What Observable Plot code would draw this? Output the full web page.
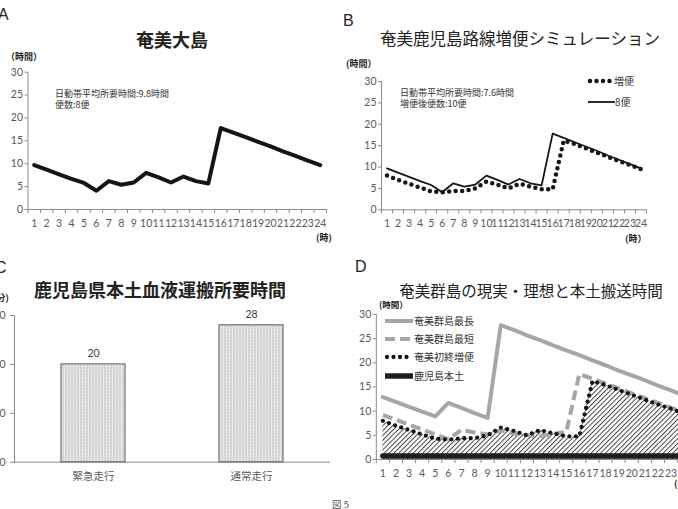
<!DOCTYPE html>
<html>
<head>
<meta charset="utf-8">
<script src="https://cdn.jsdelivr.net/npm/d3@7"></script>
<script src="https://cdn.jsdelivr.net/npm/@observablehq/plot@0.6"></script>
<style>
  body { margin: 0; background: #fff; overflow: hidden; }
  #fig { position: relative; width: 678px; height: 509px; overflow: hidden; background: #fff;
         font-family: "Noto Sans CJK JP", "Noto Sans", sans-serif; color: #222; }
  .t { position: absolute; white-space: nowrap; line-height: 1; }
  .panel { position: absolute; }
  .panel svg { display: block; max-width: none !important; height: auto; }
</style>
</head>
<body>
<svg width="0" height="0" style="position:absolute">
  <defs>
    <pattern id="hatch" patternUnits="userSpaceOnUse" width="3.4" height="3.4" patternTransform="rotate(45)">
      <line x1="0.5" y1="0" x2="0.5" y2="3.4" stroke="#333" stroke-width="0.9"/>
    </pattern>
    <pattern id="dots" patternUnits="userSpaceOnUse" width="3" height="3">
      <rect width="3" height="3" fill="#d2d2d2"/>
      <rect x="0" width="1" height="3" fill="#ededed"/>
      <rect y="0" width="3" height="0.6" fill="#e4e4e4"/>
    </pattern>
  </defs>
</svg>
<div id="fig"></div>
<script>
// ---- data ----
const hours = [1, 2, 3, 4, 5, 6, 7, 8, 9, 10, 11, 12, 13, 14, 15, 16, 17, 18, 19, 20, 21, 22, 23, 24];
const hourBounds = [0.5, 1.5, 2.5, 3.5, 4.5, 5.5, 6.5, 7.5, 8.5, 9.5, 10.5, 11.5, 12.5, 13.5, 14.5, 15.5, 16.5, 17.5, 18.5, 19.5, 20.5, 21.5, 22.5, 23.5, 24.5];
const hourTicksY = [0, 5, 10, 15, 20, 25, 30];

// 奄美大島 (8便)
const amamiOshima = [9.7, 8.7, 7.7, 6.7, 5.8, 4.1, 6.2, 5.4, 5.9, 8.0, 7.0, 5.9, 7.2, 6.2, 5.7, 17.8, 16.8, 15.8, 14.8, 13.8, 12.7, 11.7, 10.7, 9.7];
// 増便 (10便)
const zobin = [8.0, 7.0, 6.1, 5.2, 4.3, 4.1, 4.4, 4.4, 5.0, 6.6, 5.9, 5.0, 6.1, 5.4, 4.8, 4.8, 16.2, 15.4, 14.4, 13.4, 12.4, 11.4, 10.5, 9.5];
// 奄美群島
const amamiLongest = [12.9, 11.9, 10.9, 9.9, 8.9, 11.7, 10.7, 9.6, 8.6, 27.8, 26.8, 25.7, 24.7, 23.6, 22.6, 21.6, 20.5, 19.5, 18.4, 17.4, 16.4, 15.3, 14.3, 13.2];
const amamiShortest = [9.2, 8.2, 7.2, 6.2, 5.2, 4.2, 6.1, 5.6, 5.2, 6.0, 5.4, 5.0, 4.8, 5.3, 5.7, 17.7, 16.7, 15.7, 14.7, 13.7, 12.7, 11.7, 10.7, 9.7];
const amamiFirstLast = [8.0, 7.0, 6.1, 5.2, 4.3, 4.1, 4.4, 4.4, 5.0, 6.6, 5.9, 5.0, 6.1, 5.4, 4.8, 4.8, 16.2, 15.4, 14.4, 13.4, 12.4, 11.4, 10.5, 9.5];
const kagoshimaMainland = [0.7, 0.7, 0.7, 0.7, 0.7, 0.7, 0.7, 0.7, 0.7, 0.7, 0.7, 0.7, 0.7, 0.7, 0.7, 0.7, 0.7, 0.7, 0.7, 0.7, 0.7, 0.7, 0.7, 0.7];

// 鹿児島県本土血液運搬所要時間 (分)
const transportModes = ["緊急走行", "通常走行"];
const transportMinutes = [20, 28];
const minuteTicks = [0, 10, 20, 30];

// ---- helpers ----
const fig = document.getElementById("fig");
const AXIS = "#8a8a8a";
const TICK = "#595959";
const FONT = "Lato, 'Noto Sans CJK JP', sans-serif";

const rows = (values) => hours.map((h, i) => ({hour: h, value: values[i]}));

function place(node, left, top) {
  const div = document.createElement("div");
  div.className = "panel";
  div.style.left = left + "px";
  div.style.top = top + "px";
  div.style.width = node.getAttribute("width") + "px";
  div.append(node);
  fig.append(div);
}

function text(str, x, y, {size = 10, weight = 400, anchor = "start", color = "#222", family} = {}) {
  const el = document.createElement("div");
  el.className = "t";
  el.textContent = str;
  el.style.left = x + "px";
  el.style.top = y + "px";
  el.style.fontSize = size + "px";
  el.style.fontWeight = weight;
  el.style.color = color;
  if (family) el.style.fontFamily = family;
  el.style.transform = anchor === "middle" ? "translate(-50%,-50%)" : anchor === "end" ? "translate(-100%,-50%)" : "translate(0,-50%)";
  fig.append(el);
}

function hourAxes(labelPad) {
  return [
    Plot.ruleY([0], {stroke: AXIS}),
    Plot.ruleX([0.5], {stroke: AXIS}),
    Plot.axisY({ticks: hourTicksY, tickSize: 3, tickPadding: 2, stroke: AXIS, fill: TICK, label: null, fontSize: 10.5}),
    Plot.axisX({ticks: hourBounds, tickSize: 4, tickFormat: () => "", stroke: AXIS, label: null}),
    Plot.axisX({ticks: hours, tickSize: 0, tickPadding: labelPad, fill: TICK, label: null, fontSize: 10.5, tickFormat: (d) => String(d)})
  ];
}

function hourPlot(opts, marks, labelPad = 10) {
  return Plot.plot({
    ...opts,
    x: {type: "linear", domain: [0.5, 24.5]},
    y: {domain: [0, 30]},
    style: {fontFamily: FONT, fontSize: "10px", background: "transparent"},
    marks: [...hourAxes(labelPad), ...marks]
  });
}

// ---- A: 奄美大島 ----
place(hourPlot(
  {width: 340, height: 190, marginLeft: 27.5, marginRight: 14, marginTop: 11.7, marginBottom: 41},
  [Plot.line(rows(amamiOshima), {x: "hour", y: "value", stroke: "#151515", strokeWidth: 4})]
), 0, 60);

text("A", -2, 15, {size: 16, family: "'Liberation Sans', sans-serif"});
text("奄美大島", 172, 39, {size: 18, weight: 700, anchor: "middle"});
text("（時間）", 6, 56, {size: 9, weight: 700});
text("日動帯平均所要時間:9.8時間", 55, 92.5, {size: 9, color: "#333"});
text("便数:8便", 55, 104, {size: 9, color: "#333"});
text("(時)", 316, 237, {size: 9, weight: 700});

// ---- B: 奄美鹿児島路線増便シミュレーション ----
place(hourPlot(
  {width: 348, height: 190, marginLeft: 51, marginRight: 32, marginTop: 21, marginBottom: 40.7},
  [
    Plot.line(rows(amamiOshima), {x: "hour", y: "value", stroke: "#151515", strokeWidth: 1.8}),
    Plot.line(rows(zobin), {x: "hour", y: "value", stroke: "#151515", strokeWidth: 4.5, strokeDasharray: "0,6.5", strokeLinecap: "round"})
  ]
), 330, 60);

text("B", 343, 21, {size: 16, family: "'Liberation Sans', sans-serif"});
text("奄美鹿児島路線増便シミュレーション", 520, 38, {size: 16.5, anchor: "middle"});
text("(時間）", 346, 63, {size: 9, weight: 700});
text("日動帯平均所要時間:7.6時間", 400, 91.5, {size: 9, color: "#333"});
text("増便後便数:10便", 400, 103, {size: 9, color: "#333"});
text("増便", 614, 81, {size: 10, color: "#333"});
text("8便", 615, 102, {size: 10, color: "#333"});
text("(時）", 625, 238, {size: 9, weight: 700});

// ---- C: 鹿児島県本土血液運搬所要時間 ----
const cRows = transportModes.map((m, i) => ({mode: m, minutes: transportMinutes[i]}));
place(Plot.plot({
  width: 360, height: 190, marginLeft: 34, marginRight: 10, marginTop: 15, marginBottom: 28.3,
  x: {domain: transportModes, paddingInner: 0.595, paddingOuter: 0.2975},
  y: {domain: [0, 30]},
  style: {fontFamily: FONT, fontSize: "10px", background: "transparent"},
  marks: [
    Plot.frame({anchor: "left", stroke: AXIS}),
    Plot.ruleY([0], {stroke: AXIS}),
    Plot.axisY({ticks: minuteTicks, tickSize: 4, tickPadding: 5, stroke: AXIS, fill: TICK, label: null, fontSize: 10.5}),
    Plot.axisX({tickSize: 0, tickPadding: 10, fill: TICK, label: null, fontSize: 10.5}),
    Plot.barY(cRows, {x: "mode", y: "minutes", fill: "url(#dots)", stroke: "#7a7a7a", strokeWidth: 1.3}),
    Plot.text(cRows, {x: "mode", y: "minutes", text: (d) => String(d.minutes), dy: -11, fill: "#404040", fontSize: 10.5})
  ]
}), -20, 300);

text("C", -5, 268, {size: 16, family: "'Liberation Sans', sans-serif"});
text("鹿児島県本土血液運搬所要時間", 160, 289, {size: 18, weight: 700, anchor: "middle"});
text("(分)", -7, 297, {size: 9, weight: 700});
text("図 5", 332, 505, {size: 9.5, color: "#555"});

// ---- D: 奄美群島の現実・理想と本土搬送時間 ----
place(hourPlot(
  {width: 370, height: 200, marginLeft: 45.8, marginRight: 9.8, marginTop: 14, marginBottom: 41},
  [
    Plot.areaY(rows(amamiFirstLast), {x: "hour", y: "value", fill: "url(#hatch)"}),
    Plot.line(rows(kagoshimaMainland), {x: "hour", y: "value", stroke: "#1e1e1e", strokeWidth: 5.5}),
    Plot.line(rows(amamiLongest), {x: "hour", y: "value", stroke: "#a6a6a6", strokeWidth: 4}),
    Plot.line(rows(amamiShortest), {x: "hour", y: "value", stroke: "#a6a6a6", strokeWidth: 4, strokeDasharray: "10,5", strokeLinecap: "butt", strokeLinejoin: "miter"}),
    Plot.line(rows(amamiFirstLast), {x: "hour", y: "value", stroke: "#151515", strokeWidth: 4.3, strokeDasharray: "0,6.5", strokeLinecap: "round"})
  ]
), 330, 300);

text("D", 355, 267, {size: 16, family: "'Liberation Sans', sans-serif"});
text("奄美群島の現実・理想と本土搬送時間", 531, 291, {size: 15.5, anchor: "middle"});
text("(時間）", 379, 304, {size: 8.5, weight: 700});
text("奄美群島最長", 414, 321, {size: 10, color: "#333"});
text("奄美群島最短", 414, 339, {size: 10, color: "#333"});
text("奄美初終増便", 414, 357, {size: 10, color: "#333"});
text("鹿児島本土", 414, 376, {size: 10, color: "#333"});
text("(時)", 674, 483, {size: 9, weight: 700});

// ---- legend swatches ----
const overlay = d3.select(fig).append("svg")
  .attr("width", 678).attr("height", 509)
  .style("position", "absolute").style("left", 0).style("top", 0).style("pointer-events", "none");

function swatch(x1, x2, y, {stroke, width, dash = null, cap = "butt"}) {
  overlay.append("line").attr("x1", x1).attr("x2", x2).attr("y1", y).attr("y2", y)
    .attr("stroke", stroke).attr("stroke-width", width)
    .attr("stroke-dasharray", dash).attr("stroke-linecap", cap);
}
swatch(590, 613, 81, {stroke: "#151515", width: 4.5, dash: "0,6.5", cap: "round"});
swatch(588, 615, 102, {stroke: "#151515", width: 1.8});
swatch(385, 413, 321, {stroke: "#a6a6a6", width: 4});
swatch(385, 413, 339, {stroke: "#a6a6a6", width: 4, dash: "10,5"});
swatch(387, 412, 357, {stroke: "#151515", width: 4.3, dash: "0,6.5", cap: "round"});
swatch(385, 413, 376, {stroke: "#1e1e1e", width: 5.5});
</script>
</body>
</html>
